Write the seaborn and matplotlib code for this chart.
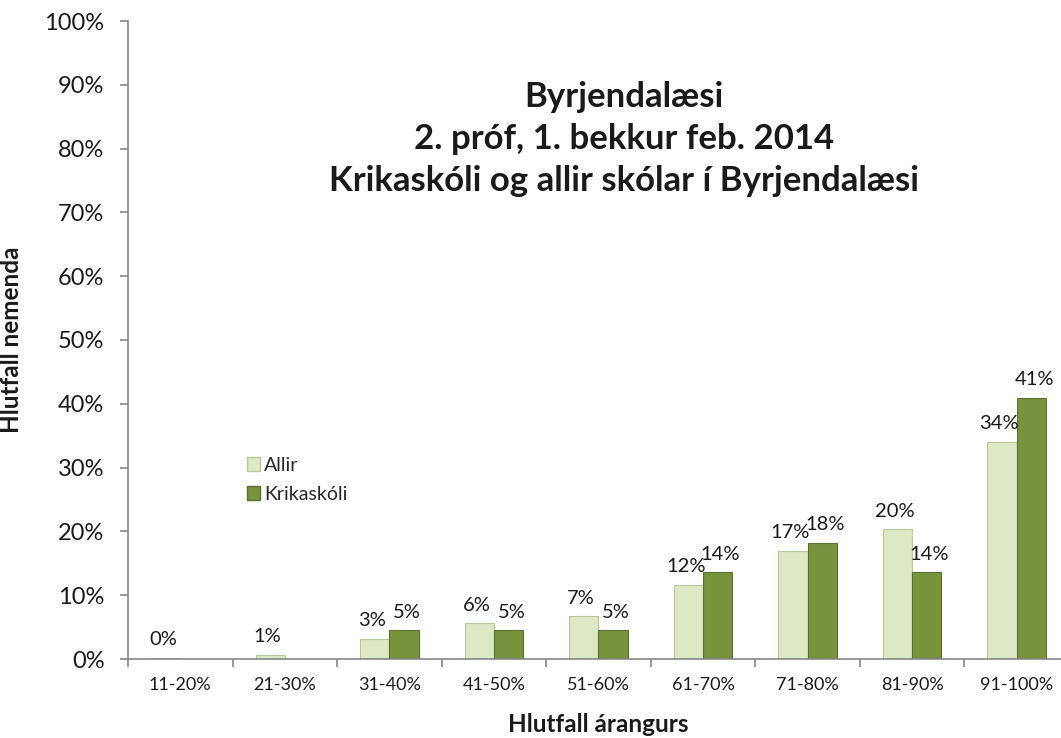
import numpy as np
import pandas as pd
import matplotlib
matplotlib.use("Agg")
import matplotlib.pyplot as plt
import seaborn as sns
from matplotlib.ticker import FuncFormatter, FixedLocator
from matplotlib.patches import Patch

categories = ["11-20%", "21-30%", "31-40%", "41-50%", "51-60%",
              "61-70%", "71-80%", "81-90%", "91-100%"]
allir = [0.2, 0.6, 3.1, 5.6, 6.7, 11.6, 16.9, 20.3, 34.0]
krikaskoli = [0.0, 0.0, 4.5, 4.5, 4.5, 13.6, 18.2, 13.6, 40.9]
allir_labels = ["0%", "1%", "3%", "6%", "7%", "12%", "17%", "20%", "34%"]
krik_labels = ["", "", "5%", "5%", "5%", "14%", "18%", "14%", "41%"]
series_names = ["Allir", "Krikaskóli"]
title_lines = ["Byrjendalæsi", "2. próf, 1. bekkur feb. 2014",
               "Krikaskóli og allir skólar í Byrjendalæsi"]

sns.set_theme(style="white")
plt.rcParams['font.family'] = ['Lato', 'DejaVu Sans']

df = pd.DataFrame({
    "cat": categories * 2,
    "val": allir + krikaskoli,
    "series": [series_names[0]] * len(categories) + [series_names[1]] * len(categories),
})

colors = {"Allir": "#dde8c4", "Krikaskóli": "#77933c"}
edges = {"Allir": "#b9c99a", "Krikaskóli": "#5b7130"}
txt = "#1a1a1a"

W, H = 1061, 738
fig = plt.figure(figsize=(W / 100, H / 100), dpi=100)
ax = fig.add_axes([128 / W, (H - 659) / H, 941 / W, 638 / H])

sns.barplot(data=df, x="cat", y="val", hue="series", order=categories,
            hue_order=series_names, palette=colors, width=0.56, gap=0,
            ax=ax, legend=False, saturation=1)

label_sets = [allir_labels, krik_labels]
dxs = [-2, 2]
for cont, name, labs, dx in zip(ax.containers, series_names, label_sets, dxs):
    for p, lab in zip(cont, labs):
        p.set_edgecolor(edges[name])
        p.set_linewidth(0.8)
        if lab:
            ax.annotate(lab, xy=(p.get_x() + p.get_width() / 2, p.get_height()),
                        xytext=(dx, 7), textcoords="offset points",
                        ha="center", va="bottom", fontsize=14.5, color=txt)

ax.set_ylim(0, 100)
ax.set_xlim(-0.5, len(categories) - 0.5)
ax.yaxis.set_major_locator(FixedLocator(np.arange(0, 101, 10)))
ax.yaxis.set_major_formatter(FuncFormatter(lambda v, p: f"{v:.0f}%"))
ax.tick_params(axis="y", which="major", left=True, length=6, width=1.2,
               color="#868686", labelsize=17, pad=11, labelcolor=txt)
ax.set_xticks(np.arange(len(categories)))
ax.set_xticklabels(categories)
ax.set_xticks(np.arange(-0.5, len(categories), 1.0), minor=True)
ax.tick_params(axis="x", which="major", length=0, labelsize=13, pad=13, labelcolor=txt)
ax.tick_params(axis="x", which="minor", bottom=True, length=6, width=1.2, color="#868686")

for side in ["top", "right"]:
    ax.spines[side].set_visible(False)
for side in ["left", "bottom"]:
    ax.spines[side].set_color("#868686")
    ax.spines[side].set_linewidth(1.2)

ax.set_ylabel("Hlutfall nemenda", fontsize=17.5, fontweight="bold", color=txt)
ax.yaxis.set_label_coords(-0.112, 0.5)
ax.set_xlabel("Hlutfall árangurs", fontsize=17.5, fontweight="bold", color=txt, va="center")
ax.xaxis.set_label_coords(0.5, -0.102)

handles = [Patch(facecolor=colors[n], edgecolor=edges[n], label=n) for n in series_names]
ax.legend(handles=handles, loc="upper left", bbox_to_anchor=(0.118, 0.329),
          frameon=False, fontsize=14, handlelength=0.7, handleheight=0.7,
          handletextpad=0.2, labelspacing=0.6, borderaxespad=0)

for i, line in enumerate(title_lines):
    fig.text(624 / W, 1 - (97 + 42 * i) / H, line, ha="center", va="center",
             fontsize=25, fontweight="bold", color=txt)

fig.savefig("out.png", dpi=100)
